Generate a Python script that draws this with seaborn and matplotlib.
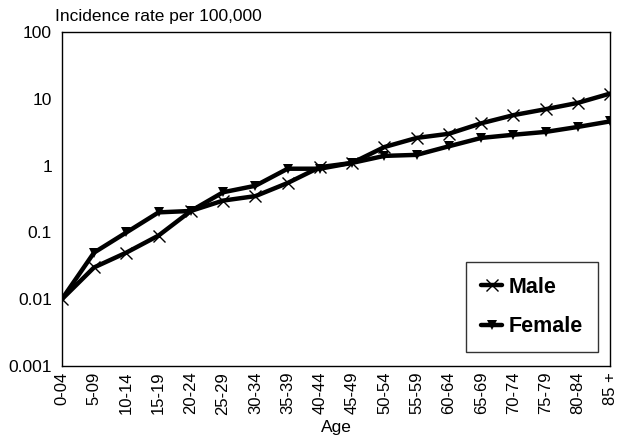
import numpy as np
import pandas as pd
import seaborn as sns
import matplotlib
matplotlib.use("Agg")
import matplotlib.pyplot as plt
from matplotlib.ticker import FixedLocator, FixedFormatter, NullLocator

ages = ["0-04", "5-09", "10-14", "15-19", "20-24", "25-29", "30-34", "35-39",
        "40-44", "45-49", "50-54", "55-59", "60-64", "65-69", "70-74", "75-79",
        "80-84", "85 +"]
male = [0.01, 0.03, 0.05, 0.09, 0.21, 0.3, 0.35, 0.55, 0.95, 1.1, 1.9, 2.6,
        3.0, 4.3, 5.7, 7.0, 8.7, 12.0]
female = [0.01, 0.05, 0.1, 0.2, 0.21, 0.4, 0.5, 0.9, 0.9, 1.1, 1.4, 1.45,
          1.95, 2.6, 2.9, 3.2, 3.8, 4.6]

pos = list(range(len(ages)))

sns.set_style("white")
plt.rcParams["font.family"] = ["Liberation Sans", "DejaVu Sans"]
plt.rcParams.update({"text.color": "black", "axes.labelcolor": "black",
                     "xtick.color": "black", "ytick.color": "black"})

fig = plt.figure(figsize=(6.24, 4.38), dpi=100)
ax = fig.add_axes([0.099, 0.164, 0.879, 0.763])

sns.lineplot(x=pos, y=male, color="black", marker="x", linewidth=3.2,
             markersize=8, markeredgewidth=1.0, markeredgecolor="black",
             label="Male", ax=ax)
sns.lineplot(x=pos, y=female, color="black", marker="v", linewidth=3.2,
             markersize=7, markeredgewidth=0, label="Female", ax=ax)

ax.set_yscale("log")
ax.set_ylim(0.001, 100)
ax.set_xlim(0, len(ages) - 1)
yt = [0.001, 0.01, 0.1, 1, 10, 100]
ax.yaxis.set_major_locator(FixedLocator(yt))
ax.yaxis.set_major_formatter(FixedFormatter(["0.001", "0.01", "0.1", "1", "10", "100"]))
ax.yaxis.set_minor_locator(NullLocator())
ax.set_xticks(pos)
ax.set_xticklabels(ages, rotation=90, fontsize=12)
ax.tick_params(axis="y", labelsize=12.5, length=0, pad=7)
ax.tick_params(axis="x", length=0, pad=4)
for s in ax.spines.values():
    s.set_color("black")
    s.set_linewidth(1.0)

ax.set_xlabel("Age", fontsize=12.5, labelpad=4)
ax.set_ylabel("")
fig.text(0.088, 0.945, "Incidence rate per 100,000", fontsize=12.5, ha="left", va="bottom")

leg = ax.legend(loc="lower right", bbox_to_anchor=(0.978, 0.042), frameon=True,
                fancybox=False, edgecolor="black", fontsize=15.5,
                handlelength=1.0, handletextpad=0.3, borderpad=0.7,
                labelspacing=0.85, borderaxespad=0)
for t in leg.get_texts():
    t.set_fontweight("bold")
leg.get_frame().set_linewidth(1.0)

fig.savefig("out.png", dpi=100)
